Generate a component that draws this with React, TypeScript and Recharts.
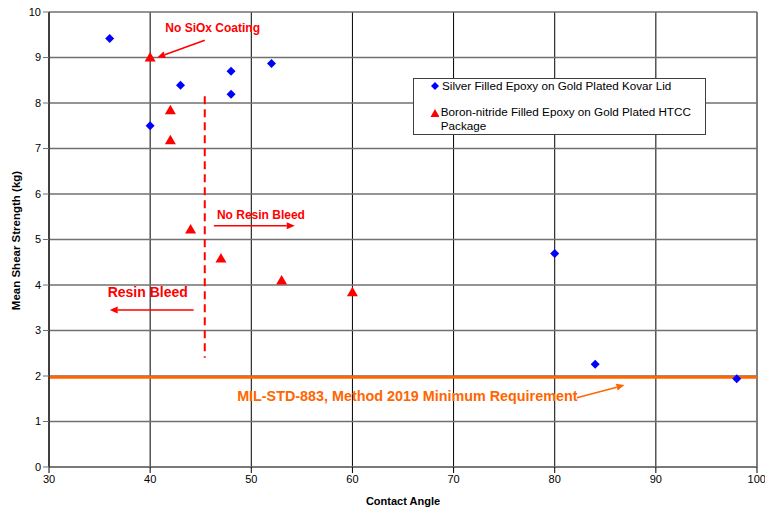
import React from 'react';
import {
  ScatterChart, Scatter, XAxis, YAxis, CartesianGrid, ReferenceLine,
} from 'recharts';

const FONT = '"Liberation Sans", Arial, sans-serif';

// contact angle vs mean shear strength
const silverAngle = [36, 40, 43, 48, 48, 52, 80, 84, 98];
const silverShear = [9.42, 7.5, 8.39, 8.7, 8.19, 8.87, 4.69, 2.26, 1.94];

const boronAngle = [40, 42, 42, 44, 47, 53, 60];
const boronShear = [9.0, 7.84, 7.18, 5.22, 4.58, 4.1, 3.84];

const xTicks = [30, 40, 50, 60, 70, 80, 90, 100];
const yTicks = [0, 1, 2, 3, 4, 5, 6, 7, 8, 9, 10];

const minRequirement = 1.97;
const bleedBoundary = 45.4;

// annotation texts
const noteText = ['No SiOx Coating', 'No Resin Bleed', 'Resin Bleed', 'MIL-STD-883, Method 2019 Minimum Requirement'];
const noteAngle = [41.5, 46.6, 35.8, 48.6];
const noteShear = [9.65, 5.54, 3.85, 1.56];
const noteColor = ['#ff0000', '#ff0000', '#ff0000', '#ff6600'];
const noteSize = [12, 12, 14, 14.35];

// arrows: from -> to
const arrowFrom = [[45.4, 9.38], [46.3, 5.3], [44.3, 3.45], [82.2, 1.52]];
const arrowTo = [[40.7, 9.0], [54.3, 5.3], [36.0, 3.45], [86.9, 1.8]];
const arrowColor = ['#ff0000', '#ff0000', '#ff0000', '#ff6600'];

const silver = silverAngle.map((x, i) => ({ x, y: silverShear[i] }));
const boron = boronAngle.map((x, i) => ({ x, y: boronShear[i] }));
const notes = noteText.map((t, i) => ({
  x: noteAngle[i], y: noteShear[i], text: t, color: noteColor[i], size: noteSize[i],
}));

function Diamond({ cx, cy }: any) {
  if (cx == null) return null;
  return <polygon points={`${cx},${cy - 4.5} ${cx + 4.5},${cy} ${cx},${cy + 4.5} ${cx - 4.5},${cy}`} fill="#0000ff" />;
}

function Triangle({ cx, cy }: any) {
  if (cx == null) return null;
  return <polygon points={`${cx},${cy - 5.5} ${cx + 5.5},${cy + 4} ${cx - 5.5},${cy + 4}`} fill="#ff0000" />;
}

function NoteText({ cx, cy, payload }: any) {
  if (cx == null) return null;
  return (
    <text x={cx} y={cy} dominantBaseline="central" textAnchor="start"
      fill={payload.color} fontFamily={FONT} fontWeight="bold" fontSize={payload.size}>
      {payload.text}
    </text>
  );
}

function arrowShape(color: string) {
  return (p: any) => {
    const { x1, y1, x2, y2 } = p;
    const ang = Math.atan2(y2 - y1, x2 - x1);
    const L = 8, W = 3.5;
    const bx = x2 - L * Math.cos(ang), by = y2 - L * Math.sin(ang);
    const px = -Math.sin(ang) * W, py = Math.cos(ang) * W;
    return (
      <g>
        <line x1={x1} y1={y1} x2={bx} y2={by} stroke={color} strokeWidth={1.5} />
        <polygon points={`${x2},${y2} ${bx + px},${by + py} ${bx - px},${by - py}`} fill={color} />
      </g>
    );
  };
}

export default function App() {
  return (
    <div style={{ position: 'absolute', left: 0, top: 0, width: 765, height: 514, background: '#fff' }}>
      <ScatterChart width={765} height={514} margin={{ top: 12, right: 8, left: 0, bottom: 0 }}>
        <CartesianGrid horizontal={false} stroke="#000" strokeOpacity={1} />
        <CartesianGrid vertical={false} stroke="#707070" strokeWidth={1.5} strokeOpacity={1} />
        <XAxis
          type="number" dataKey="x" domain={[30, 100]} ticks={xTicks} height={47}
          axisLine={{ stroke: '#707070', strokeWidth: 1.5 }} tickLine={{ stroke: '#000' }} tickSize={6}
          tick={{ fill: '#000', fontSize: 11, fontFamily: FONT }}
          allowDataOverflow
          label={({ viewBox }: any) => (
            <text x={viewBox.x + viewBox.width / 2} y={viewBox.y + 38} textAnchor="middle"
              fontFamily={FONT} fontWeight="bold" fontSize={11} fill="#000">Contact Angle</text>
          )}
        />
        <YAxis
          type="number" dataKey="y" domain={[0, 10]} ticks={yTicks} width={49}
          axisLine={{ stroke: '#000' }} tickLine={{ stroke: '#707070' }} tickSize={6}
          tick={{ fill: '#000', fontSize: 11, fontFamily: FONT }}
          allowDataOverflow
          label={({ viewBox }: any) => {
            const x = viewBox.x + 16, y = viewBox.y + viewBox.height / 2 + 1;
            return (
              <text x={x} y={y} transform={`rotate(-90 ${x} ${y})`} textAnchor="middle" dominantBaseline="central"
                fontFamily={FONT} fontWeight="bold" fontSize={11.5} fill="#000">Mean Shear Strength (kg)</text>
            );
          }}
        />
        <Scatter data={silver} shape={<Diamond />} isAnimationActive={false} />
        <Scatter data={boron} shape={<Triangle />} isAnimationActive={false} />
        <ReferenceLine
          segment={[{ x: bleedBoundary, y: 8.15 }, { x: bleedBoundary, y: 2.4 }]}
          stroke="#ff0000" strokeWidth={2} strokeDasharray="8 5"
        />
        {arrowFrom.map((f, i) => (
          <ReferenceLine key={i}
            segment={[{ x: f[0], y: f[1] }, { x: arrowTo[i][0], y: arrowTo[i][1] }]}
            shape={arrowShape(arrowColor[i])}
          />
        ))}
        <ReferenceLine y={minRequirement} stroke="#ff6600" strokeWidth={3} />
        <Scatter data={notes} shape={<NoteText />} isAnimationActive={false} legendType="none" />
      </ScatterChart>
      <div style={{
        position: 'absolute', left: 413, top: 78, width: 291, height: 55,
        border: '1px solid #404040', background: '#fff', fontFamily: FONT, fontSize: 11.7, color: '#000',
      }}>
        <div style={{ position: 'absolute', left: 16, top: 0, display: 'flex', alignItems: 'center' }}>
          <svg width={10} height={10} style={{ marginRight: 2 }}><polygon points="5,1 9,5 5,9 1,5" fill="#0000ff" /></svg>
          <span style={{ lineHeight: '14px' }}>Silver Filled Epoxy on Gold Plated Kovar Lid</span>
        </div>
        <div style={{ position: 'absolute', left: 16, top: 26, display: 'flex', alignItems: 'flex-start', width: 272 }}>
          <svg width={10} height={10} style={{ marginRight: 2, marginTop: 3 }}><polygon points="5,1 9.5,9 0.5,9" fill="#ff0000" /></svg>
          <span style={{ lineHeight: '14px' }}>Boron-nitride Filled Epoxy on Gold Plated HTCC Package</span>
        </div>
      </div>
    </div>
  );
}
